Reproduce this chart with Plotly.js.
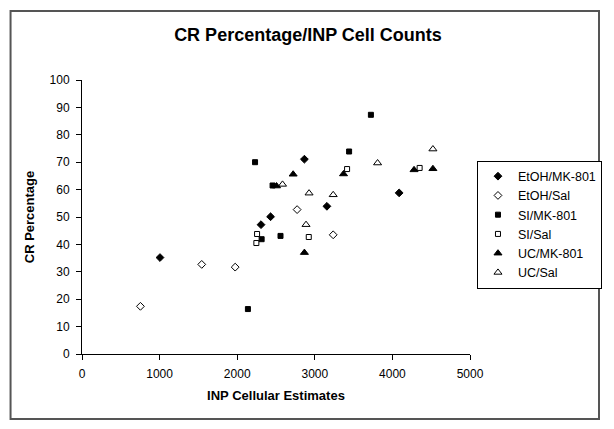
<!DOCTYPE html>
<html>
<head>
<meta charset="utf-8">
<script src="https://cdn.plot.ly/plotly-3.0.1.min.js"></script>
<style>
html,body{margin:0;padding:0;background:#fff;}
#chart{width:614px;height:429px;}
</style>
</head>
<body>
<div id="chart"></div>
<script>
// Series names
const seriesNames = ["EtOH/MK-801", "EtOH/Sal", "SI/MK-801", "SI/Sal", "UC/MK-801", "UC/Sal"];

// EtOH/MK-801
const etohMkX = [1005, 2307, 2430, 2866, 3156, 4087];
const etohMkY = [35.2, 47.2, 50.1, 71.1, 53.9, 58.8];
// EtOH/Sal
const etohSalX = [753, 1543, 1974, 2772, 3237];
const etohSalY = [17.4, 32.7, 31.7, 52.7, 43.5];
// SI/MK-801
const siMkX = [2138, 2230, 2315, 2456, 2558, 3442, 3723];
const siMkY = [16.4, 70.0, 41.9, 61.5, 43.1, 73.9, 87.3];
// SI/Sal
const siSalX = [2256, 2247, 2922, 3416, 4351];
const siSalY = [43.8, 40.5, 42.7, 67.5, 67.9];
// UC/MK-801
const ucMkX = [2507, 2721, 2866, 3370, 4279, 4522];
const ucMkY = [61.3, 65.6, 37.0, 65.7, 67.2, 67.6];
// UC/Sal
const ucSalX = [2584, 2887, 2926, 3237, 3809, 4522];
const ucSalY = [61.9, 47.2, 58.7, 58.1, 69.7, 74.8];

const xTicks = [0, 1000, 2000, 3000, 4000, 5000];
const yTicks = [0, 10, 20, 30, 40, 50, 60, 70, 80, 90, 100];

const FONT = "Liberation Sans, Arial, sans-serif";

function mk(name, x, y, symbol, size) {
  return {
    type: "scatter", mode: "markers", name: name, x: x, y: y,
    marker: {symbol: symbol, size: size, color: "#000", line: {color: "#000", width: 1}},
    cliponaxis: false
  };
}

const data = [
  mk(seriesNames[0], etohMkX, etohMkY, "diamond", 6),
  mk(seriesNames[1], etohSalX, etohSalY, "diamond-open", 6),
  mk(seriesNames[2], siMkX, siMkY, "square", 5),
  mk(seriesNames[3], siSalX, siSalY, "square-open", 5),
  mk(seriesNames[4], ucMkX, ucMkY, "triangle-up", 7),
  mk(seriesNames[5], ucSalX, ucSalY, "triangle-up-open", 7)
];

const layout = {
  width: 614, height: 429,
  paper_bgcolor: "#fff", plot_bgcolor: "#fff",
  margin: {l: 82, r: 141, t: 80, b: 75, pad: 0},
  font: {family: FONT, color: "#000", size: 12},
  title: {text: "<b>CR Percentage/INP Cell Counts</b>", font: {family: FONT, size: 18, color: "#000"},
          x: 308/614, xref: "container", xanchor: "center", y: 1 - 35/429, yref: "container", yanchor: "middle"},
  xaxis: {
    range: [0, 5000], tickvals: xTicks, ticktext: xTicks.map(String),
    showline: true, linecolor: "#000", linewidth: 1, mirror: false,
    ticks: "outside", ticklen: 5, tickcolor: "#000", tickwidth: 1,
    showgrid: false, zeroline: false, ticklabelstandoff: 4,
    tickfont: {family: FONT, size: 12, color: "#000"},
    title: {text: "<b>INP Cellular Estimates</b>", font: {family: FONT, size: 13, color: "#000"}, standoff: 10}
  },
  yaxis: {
    range: [0, 100], tickvals: yTicks, ticktext: yTicks.map(String),
    showline: true, linecolor: "#000", linewidth: 1,
    ticks: "outside", ticklen: 5, tickcolor: "#000", tickwidth: 1,
    showgrid: false, zeroline: false, ticklabelstandoff: 4,
    tickfont: {family: FONT, size: 12, color: "#000"},
    title: {text: "<b>CR Percentage</b>", font: {family: FONT, size: 13, color: "#000"}, standoff: 12}
  },
  showlegend: true,
  legend: {
    x: 1.018, xanchor: "left", y: 0.706, yanchor: "top",
    bordercolor: "#000", borderwidth: 1, bgcolor: "#fff",
    font: {family: FONT, size: 12.5, color: "#000"},
    tracegroupgap: 0
  },
  shapes: [{
    type: "rect", xref: "paper", yref: "paper",
    x0: (10 - 82) / 391, x1: (603 - 82) / 391,
    y0: (354 - 419) / 274, y1: (354 - 11) / 274,
    line: {color: "#555", width: 2}, fillcolor: "rgba(0,0,0,0)", layer: "below"
  }]
};

Plotly.newPlot("chart", data, layout, {staticPlot: true, displayModeBar: false});
</script>
</body>
</html>
